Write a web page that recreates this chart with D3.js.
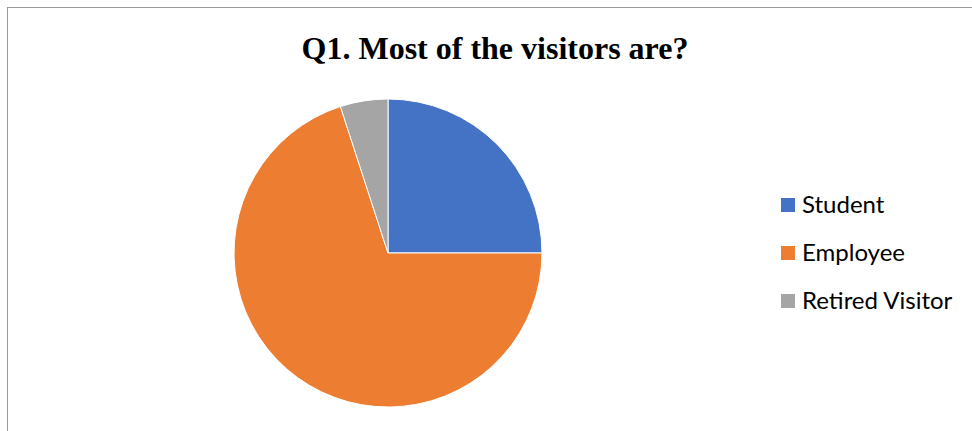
<!DOCTYPE html>
<html>
<head>
<meta charset="utf-8">
<script src="https://cdn.jsdelivr.net/npm/d3@7"></script>
<style>
  html, body { margin: 0; padding: 0; background: #fff; }
  svg { display: block; }
</style>
</head>
<body>
<svg id="chart" width="972" height="431"></svg>
<script>
// Visitor profile shares (percent)
const categories = ["Student", "Employee", "Retired Visitor"];
const values = [25, 70, 5];
const colors = ["#4472C4", "#ED7D31", "#A5A5A5"];
const title = "Q1. Most of the visitors are?";

const svg = d3.select("#chart");
const W = 972, H = 431;

// Chart frame (extends past the right and bottom edges)
svg.append("rect")
  .attr("x", 7.5).attr("y", 7.5)
  .attr("width", W + 20).attr("height", H + 20)
  .attr("fill", "#fff")
  .attr("stroke", "#9a9a9a")
  .attr("stroke-width", 1);

svg.append("text")
  .attr("x", 495).attr("y", 59)
  .attr("text-anchor", "middle")
  .attr("font-family", "'Liberation Serif', 'Times New Roman', serif")
  .attr("font-weight", "bold")
  .attr("font-size", 32)
  .attr("fill", "#000")
  .text(title);

const cx = 388, cy = 253, r = 154;
const pie = d3.pie().sort(null).value(d => d.v);
const arc = d3.arc().innerRadius(0).outerRadius(r);
const data = categories.map((c, i) => ({ c, v: values[i], color: colors[i] }));

svg.append("g")
  .attr("transform", `translate(${cx},${cy})`)
  .selectAll("path")
  .data(pie(data))
  .join("path")
  .attr("d", arc)
  .attr("fill", d => d.data.color)
  .attr("stroke", "#fff")
  .attr("stroke-width", 1);

// Legend
const legend = svg.append("g").attr("transform", "translate(781,205)");
const rowH = 48;
const items = legend.selectAll("g")
  .data(data)
  .join("g")
  .attr("transform", (d, i) => `translate(0,${i * rowH})`);
items.append("rect")
  .attr("x", 0).attr("y", -7)
  .attr("width", 14).attr("height", 14)
  .attr("fill", d => d.color);
items.append("text")
  .attr("x", 21).attr("y", 0)
  .attr("dy", "0.35em")
  .attr("font-family", "Lato, 'Open Sans', sans-serif")
  .attr("font-size", 24)
  .attr("fill", "#000")
  .text(d => d.c);
</script>
</body>
</html>
